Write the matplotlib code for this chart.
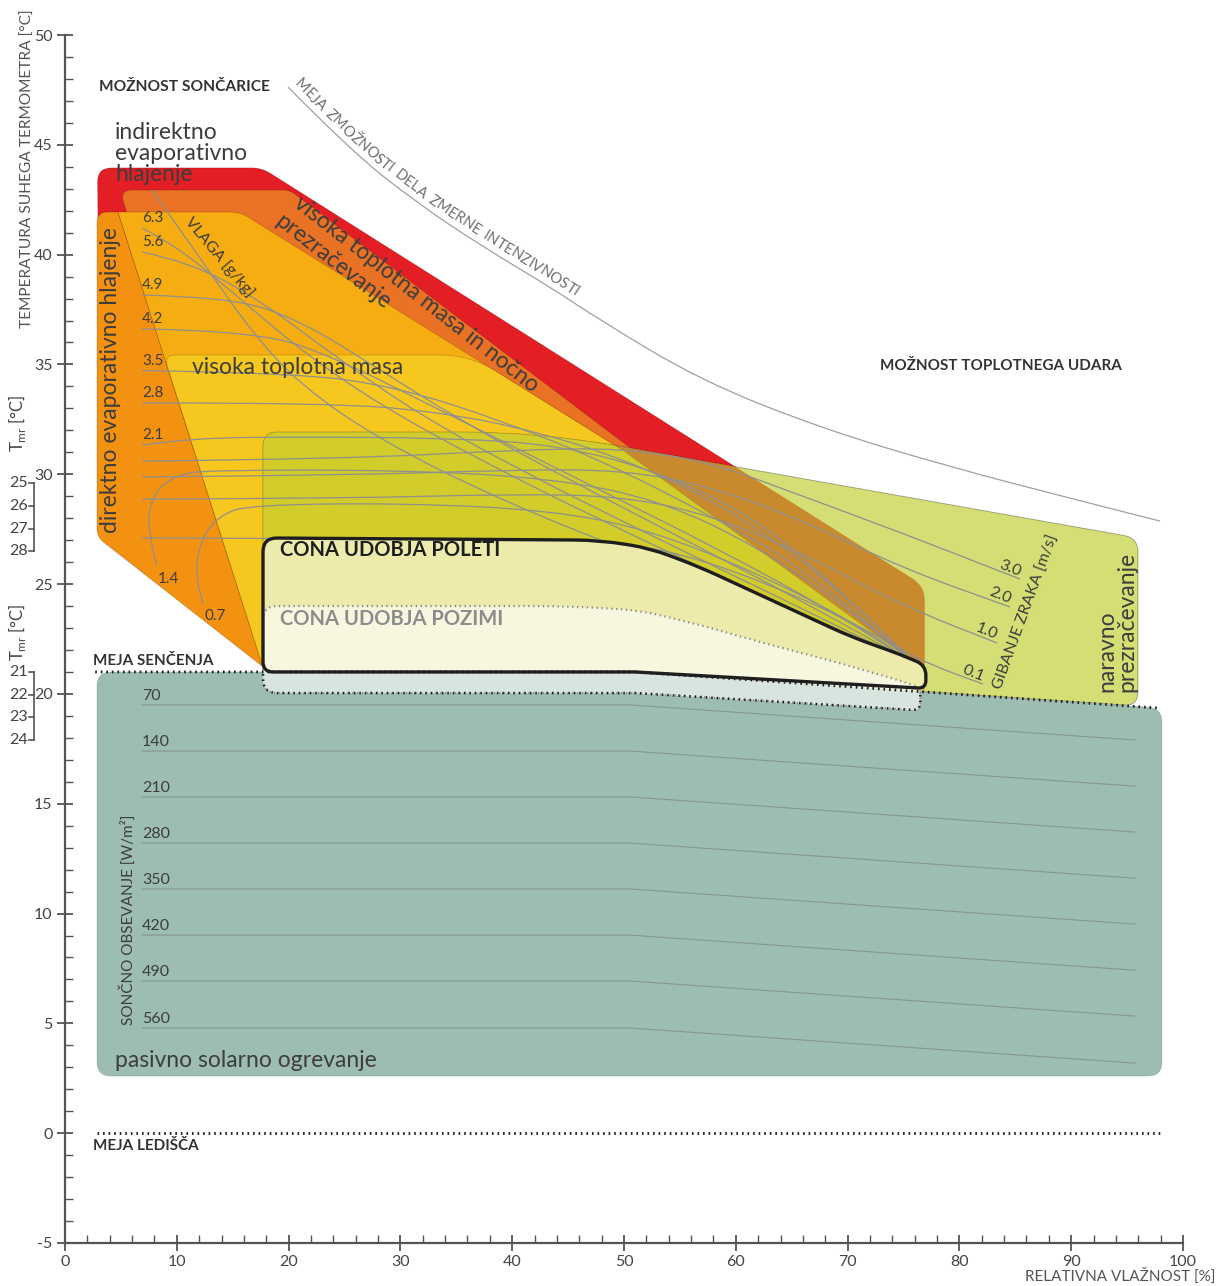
import numpy as np
import matplotlib
matplotlib.use("Agg")
import matplotlib.pyplot as plt
from matplotlib.path import Path
from matplotlib.patches import PathPatch
from matplotlib.font_manager import FontProperties

plt.rcParams["font.family"] = ["Lato", "DejaVu Sans"]
plt.rcParams["mathtext.fontset"] = "custom"
plt.rcParams["mathtext.rm"] = "Lato"

# --- podatki: relativna vlaznost [%], temperatura [°C] ---
INDIREKTNO = [(2.9, 43.95), (17.6, 43.95), (76.9, 24.9), (76.9, 20.2), (17.9, 21.8), (3.2, 28.2)]
NOCNO = [(4.9, 42.94), (20.1, 42.94), (76.0, 21.4), (17.9, 21.6)]
DIREKTNO = [(2.86, 41.94), (4.74, 41.94), (17.71, 21.23), (2.86, 27.14)]
DIREKTNO_SIRSE = [(4.74, 41.94), (15.65, 41.94), (50.0, 31.05), (76.0, 21.4), (17.71, 21.2)]
MASA = [(8.84, 35.43), (36.2, 35.43), (50.0, 31.05), (76.0, 21.4), (17.71, 21.2)]
NARAVNO = [(17.71, 31.92), (42.49, 31.92), (95.97, 27.1), (95.97, 19.45), (50.98, 21.0), (17.71, 21.0)]
SOLARNO = [(2.86, 21.0), (50.98, 21.0), (98.12, 19.35), (98.12, 2.6), (2.86, 2.6)]
POLETI = [(17.71, 27.1), (47.85, 27.0), (52.33, 26.63), (56.8, 25.77), (61.27, 24.72),
          (65.74, 23.67), (70.21, 22.62), (74.69, 21.8), (77.0, 21.3), (77.0, 20.25),
          (50.98, 21.0), (17.71, 21.0)]
POZIMI = [(17.71, 24.0), (45.0, 24.0), (51.43, 23.8), (56.8, 23.14), (62.17, 22.36),
          (69.32, 21.4), (74.69, 20.6), (76.5, 20.3), (76.5, 19.25), (50.98, 20.04), (17.71, 20.04)]

MEJA_SENCENJA = [(2.7, 21.0), (50.98, 21.0), (97.94, 19.35)]
MEJA_LEDISCA = [(2.9, 0.0), (97.9, 0.0)]
MEJA_DELA = [(19.95, 47.63), (25.49, 44.76), (31.49, 42.35), (37.39, 40.35), (43.38, 38.53),
             (47.85, 37.02), (56.8, 34.29), (67.53, 32.11), (79.16, 30.33), (90.52, 28.83), (97.94, 27.87)]

# vlaga [g/kg]
VLAGA_OZNAKE = ["6.3", "5.6", "4.9", "4.2", "3.5", "2.8", "2.1", "1.4", "0.7"]
VLAGA_KRIVULJE = [
    [(6.89, 41.21), (9.84, 40.44), (14.76, 38.39), (21.02, 35.66), (28.18, 33.15), (37.12, 30.65), (47.85, 27.92), (61.27, 24.73), (76.03, 21.36)],
    [(6.89, 40.12), (11.18, 39.66), (17.44, 37.93), (24.6, 35.2), (31.75, 32.7), (40.7, 30.19), (51.43, 27.46), (63.95, 24.37), (76.03, 21.36)],
    [(6.89, 38.16), (14.76, 38.07), (21.02, 37.02), (28.18, 34.75), (35.33, 32.47), (44.27, 29.97), (55.0, 27.14), (65.74, 24.28), (76.03, 21.36)],
    [(6.89, 36.62), (17.44, 36.53), (24.6, 35.2), (31.75, 33.38), (39.8, 31.33), (48.75, 29.06), (58.59, 26.55), (68.43, 23.82), (76.03, 21.36)],
    [(6.89, 34.72), (21.02, 34.62), (29.96, 33.93), (38.91, 32.47), (47.85, 30.65), (56.8, 28.37), (65.74, 25.87), (76.03, 21.36)],
    [(6.89, 33.25), (23.7, 33.25), (33.54, 32.84), (42.49, 31.92), (51.43, 30.42), (60.38, 28.15), (69.32, 24.73), (76.03, 21.36)],
    [(6.89, 31.33), (11.18, 31.65), (21.02, 31.7), (34.44, 31.65), (44.27, 31.33), (53.22, 30.1), (62.17, 27.92), (70.21, 24.28), (76.03, 21.36)],
    [(8.23, 25.82), (7.33, 27.46), (7.78, 29.06), (9.84, 29.97), (12.97, 30.19), (29.96, 30.19), (43.38, 29.83), (53.22, 28.83), (62.17, 26.64), (70.21, 23.82), (76.03, 21.36)],
    [(12.34, 24.14), (11.63, 25.19), (12.08, 27.01), (13.86, 28.15), (16.55, 28.6), (29.96, 28.69), (43.38, 28.37), (52.33, 27.46), (61.27, 25.64), (70.21, 23.37), (76.03, 21.36)],
]
VLAGA_OS = [(7.78, 42.94), (12.08, 39.85), (16.55, 36.57), (21.02, 34.07), (28.18, 31.56), (38.91, 28.83), (52.33, 26.1), (65.74, 23.59), (76.03, 21.36)]

# gibanje zraka [m/s]
ZRAK_OZNAKE = ["3.0", "2.0", "1.0", "0.1"]
ZRAK_KRIVULJE = [
    [(6.89, 30.6), (25.0, 30.7), (40.0, 31.1), (50.0, 31.2), (58.0, 30.5), (66.0, 29.0), (75.0, 27.3), (85.42, 25.23)],
    [(6.89, 29.88), (25.0, 29.95), (40.0, 30.2), (50.0, 30.2), (58.0, 29.4), (66.0, 27.9), (75.0, 25.7), (84.53, 23.96)],
    [(6.89, 28.87), (25.0, 28.9), (40.0, 29.1), (50.0, 29.0), (58.0, 28.1), (66.0, 26.4), (75.0, 24.0), (83.36, 22.32)],
    [(6.89, 27.1), (48.0, 27.05), (55.0, 26.4), (62.0, 25.2), (70.0, 23.4), (76.5, 21.5), (82.11, 20.45)],
]

# soncno obsevanje [W/m2]
SONCE_OZNAKE = ["70", "140", "210", "280", "350", "420", "490", "560"]
SONCE_LEVO = [19.50, 17.40, 15.31, 13.21, 11.12, 9.02, 6.93, 4.79]
SONCE_DESNO = [17.90, 15.80, 13.71, 11.61, 9.52, 7.42, 5.33, 3.19]
SONCE_RH = [6.89, 50.5, 95.71]

TMR_ZGORAJ = [25, 26, 27, 28]
TMR_ZGORAJ_T = [29.6, 28.55, 27.5, 26.5]
TMR_SPODAJ = [21, 22, 23, 24]
TMR_SPODAJ_T = [21.0, 19.95, 18.95, 17.9]

fig = plt.figure(figsize=(12.2, 12.86), dpi=100)
ax = fig.add_axes([65 / 1220, 43 / 1286, 1118 / 1220, 1208 / 1286])
ax.set_xlim(0, 100)
ax.set_ylim(-5, 50)
SX = 1118 / 100
SY = 1208 / 55

TXT = "#3d3d3d"


def rounded_path(points, radii):
    p = np.array(points, float) * [SX, SY]
    n = len(p)
    verts, codes = [], []
    for i in range(n):
        cur = p[i]
        d1 = p[i - 1] - cur
        d2 = p[(i + 1) % n] - cur
        l1 = np.hypot(*d1)
        l2 = np.hypot(*d2)
        r = min(radii[i], l1 / 2, l2 / 2)
        a = cur + d1 / l1 * r
        b = cur + d2 / l2 * r
        verts.append(a)
        codes.append(Path.MOVETO if i == 0 else Path.LINETO)
        verts += [cur, b]
        codes += [Path.CURVE3, Path.CURVE3]
    verts.append(verts[0])
    codes.append(Path.CLOSEPOLY)
    return Path(np.array(verts) / [SX, SY], codes)


def smooth_path(points):
    p = np.array(points, float)
    verts = [p[0]]
    codes = [Path.MOVETO]
    for i in range(1, len(p) - 1):
        verts += [p[i], (p[i] + p[i + 1]) / 2]
        codes += [Path.CURVE3, Path.CURVE3]
    verts.append(p[-1])
    codes.append(Path.LINETO)
    return Path(np.array(verts), codes)


def shape(path, fc, z, ec="none", lw=0.0, clip=None, **kw):
    patch = PathPatch(path, facecolor=fc, edgecolor=ec, lw=lw, zorder=z, **kw)
    ax.add_patch(patch)
    if clip is not None:
        patch.set_clip_path(clip)
    return patch


p_red = rounded_path(INDIREKTNO, [14, 10, 14, 0, 0, 0])
p_orange = rounded_path(NOCNO, [12, 6, 0, 0])
p_dir = rounded_path(DIREKTNO, [12, 0, 0, 8])
p_amber = rounded_path(DIREKTNO_SIRSE, [0, 10, 0, 0, 0])
p_yellow = rounded_path(MASA, [12, 30, 0, 0, 0])
p_green = rounded_path(NARAVNO, [14, 80, 14, 14, 0, 0])
p_teal = rounded_path(SOLARNO, [14, 0, 14, 14, 14])
p_summer = rounded_path(POLETI, [14, 40, 20, 20, 20, 20, 20, 12, 10, 8, 0, 10])
p_winter = rounded_path(POZIMI, [14, 40, 20, 20, 20, 20, 12, 8, 8, 0, 14])

edge = (0, 0, 0, 0.18)
shape(p_red, "#e31e25", 1.0, ec=edge, lw=0.6)
shape(p_orange, "#ea7224", 1.1, ec=edge, lw=0.6)
shape(p_dir, "#f39211", 1.2, ec=edge, lw=0.6)
shape(p_amber, "#f6ad11", 1.3, ec=edge, lw=0.6)
shape(p_yellow, "#f6c81f", 1.4, ec=edge, lw=0.6)

green = shape(p_green, "#d4de74", 1.5, ec=edge, lw=0.6)
shape(p_red, "#c98a2e", 1.6, clip=green)
shape(p_orange, "#c98a2e", 1.61, clip=green)
shape(p_amber, "#d2cd2a", 1.62, clip=green)
shape(p_yellow, "#d2cd2a", 1.63, clip=green)
shape(p_yellow, "none", 1.635, ec=(0, 0, 0, 0.12), lw=0.6, clip=green)
shape(p_green, "none", 1.64, ec=edge, lw=0.6)

teal = shape(p_teal, "#9dbdb0", 1.5, ec=(0, 0, 0, 0.12), lw=0.6)

# linije vlage in gibanja zraka
for pts in VLAGA_KRIVULJE + [VLAGA_OS]:
    ax.add_patch(PathPatch(smooth_path(pts), fc="none", ec="#8f8f8f", lw=0.9, zorder=2.0))
for pts in ZRAK_KRIVULJE:
    ax.add_patch(PathPatch(smooth_path(pts), fc="none", ec="#8f8f8f", lw=0.9, zorder=2.0))

for lab, pts in zip(VLAGA_OZNAKE, VLAGA_KRIVULJE):
    x0, y0 = pts[0]
    if pts[1][1] > y0 + 1:
        ax.text(x0 + 0.1, y0 - 0.6, lab, fontsize=11, color=TXT, va="center", ha="left", zorder=4)
    else:
        ax.text(x0, y0 + 0.45, lab, fontsize=11, color=TXT, va="center", ha="left", zorder=4)

for lab, pts in zip(ZRAK_OZNAKE, ZRAK_KRIVULJE):
    x1, y1 = pts[-1]
    ax.text(x1 - 0.9, y1 + 0.5, lab, fontsize=11.5, color=TXT, rotation=-22,
            ha="center", va="center", rotation_mode="anchor", zorder=4)

# soncno obsevanje
for lab, yl, yd in zip(SONCE_OZNAKE, SONCE_LEVO, SONCE_DESNO):
    ax.plot(SONCE_RH, [yl, yl, yd], color="#86968f", lw=0.8, zorder=2.0)
    ax.text(SONCE_RH[0], yl + 0.42, lab, fontsize=11.5, color=TXT, va="center", ha="left", zorder=4)

# cone udobja
shape(p_summer, "#ecebab", 2.5)
shape(p_winter, "#f7f6df", 2.6)
shape(p_winter, "#d8e5df", 2.65, clip=teal)
shape(p_winter, "none", 2.7, ec="#8c8c8c", lw=1.6, ls=(0, (0.6, 1.6)))
shape(p_winter, "none", 2.71, clip=teal, ec="#1e1e1e", lw=1.8, ls=(0, (0.6, 1.6)))
shape(p_summer, "none", 2.9, ec="#1e1e1e", lw=2.4)

# meje
ax.plot(*zip(*MEJA_SENCENJA), color="#1e1e1e", lw=2.0, ls=(0, (0.6, 1.4)), zorder=3)
ax.plot(*zip(*MEJA_LEDISCA), color="#1e1e1e", lw=2.0, ls=(0, (0.6, 1.4)), zorder=3)
meja_dela = smooth_path(MEJA_DELA)
ax.add_patch(PathPatch(meja_dela, fc="none", ec="#a0a0a0", lw=0.9, zorder=2.0))


def text_on_curve(path, s, start, offset, **kw):
    fig.canvas.draw()
    rend = fig.canvas.get_renderer()
    poly = path.to_polygons(ax.transData, closed_only=False)[0]
    seg = np.hypot(*np.diff(poly, axis=0).T)
    cum = np.concatenate([[0], np.cumsum(seg)])
    fp = FontProperties(family=plt.rcParams["font.family"], size=kw.get("fontsize", 10))
    pos = start
    for ch in s:
        w, h, d = rend.get_text_width_height_descent(ch if ch != " " else "n", fp, ismath=False)
        w = w * 0.72 if ch == " " else w
        c = pos + w / 2
        x = np.interp(c, cum, poly[:, 0])
        y = np.interp(c, cum, poly[:, 1])
        x2 = np.interp(c + 2, cum, poly[:, 0])
        y2 = np.interp(c + 2, cum, poly[:, 1])
        t = np.array([x2 - x, y2 - y])
        t /= np.hypot(*t)
        nrm = np.array([-t[1], t[0]])
        dx, dy = ax.transData.inverted().transform((x + nrm[0] * offset, y + nrm[1] * offset))
        ang = np.degrees(np.arctan2(t[1], t[0]))
        if ch != " ":
            ax.text(dx, dy, ch, rotation=ang, ha="center", va="center",
                    rotation_mode="anchor", zorder=4, **kw)
        pos += w


text_on_curve(meja_dela, "MEJA ZMOŽNOSTI DELA ZMERNE INTENZIVNOSTI", 2, 10,
              fontsize=10.5, color="#6e6e6e")

# napisi
bold = dict(fontweight="bold", color="#333333", zorder=4)
ax.text(3.04, 47.63, "MOŽNOST SONČARICE", fontsize=11.2, ha="left", va="center", **bold)
ax.text(72.9, 34.93, "MOŽNOST TOPLOTNEGA UDARA", fontsize=11, ha="left", va="center", **bold)
ax.text(2.5, 21.5, "MEJA SENČENJA", fontsize=11, ha="left", va="center", **bold)
ax.text(2.5, -0.58, "MEJA LEDIŠČA", fontsize=11, ha="left", va="center", **bold)
ax.text(19.2, 26.55, "CONA UDOBJA POLETI", fontsize=14.5, ha="left", va="center",
        fontweight="bold", color="#1e1e1e", zorder=4)
ax.text(19.2, 23.41, "CONA UDOBJA POZIMI", fontsize=14.5, ha="left", va="center",
        fontweight="bold", color="#8c8c8c", zorder=4)

big = dict(fontsize=16.5, color=TXT, zorder=4)
ax.text(4.47, 46.05, "indirektno\nevaporativno\nhlajenje", ha="left", va="top",
        linespacing=1.0, **big)
ax.text(11.36, 34.84, "visoka toplotna masa", ha="left", va="center", **big)
ax.text(4.03, 34.3, "direktno evaporativno hlajenje", rotation=90, ha="center", va="center", **big)
ax.text(31.4, 38.2, "visoka toplotna masa in nočno", rotation=-38, ha="center", va="center",
        rotation_mode="anchor", **big)
ax.text(23.97, 39.66, "prezračevanje", rotation=-38, ha="center", va="center",
        rotation_mode="anchor", **big)
ax.text(94.1, 20.1, "naravno\nprezračevanje", rotation=90, ha="center", va="bottom",
        multialignment="left", linespacing=0.95, **big)
ax.text(4.47, 3.33, "pasivno solarno ogrevanje", ha="left", va="center", **big)

ax.text(13.86, 39.9, "VLAGA [g/kg]", rotation=-50, ha="center", va="center",
        rotation_mode="anchor", fontsize=11.5, color=TXT, zorder=4)
ax.text(86.0, 23.73, "GIBANJE ZRAKA [m/s]", rotation=70, ha="center", va="center",
        rotation_mode="anchor", fontsize=11.5, color=TXT, zorder=4)
ax.text(5.64, 9.71, "SONČNO OBSEVANJE [W/m²]", rotation=90, ha="center", va="center",
        fontsize=11, color=TXT, zorder=4)

# osi
for side in ["top", "right"]:
    ax.spines[side].set_visible(False)
for side in ["left", "bottom"]:
    ax.spines[side].set_color("#555555")
    ax.spines[side].set_linewidth(1.6)
    ax.spines[side].set_zorder(5)
ax.set_xticks(range(0, 101, 10))
ax.set_xticks(range(0, 101, 2), minor=True)
ax.set_yticks(range(-5, 51, 5))
ax.set_yticks(range(-5, 51, 1), minor=True)
ax.set_xticklabels([str(v) for v in range(0, 101, 10)])
ax.set_yticklabels([str(v) for v in range(-5, 51, 5)])
ax.tick_params(which="major", direction="inout", length=12, width=1.3, color="#555555",
               labelsize=11.5, labelcolor="#444444", pad=3)
ax.tick_params(which="minor", direction="in", length=6, width=1.0, color="#555555")

ax.text(-3.3, 43.9, "TEMPERATURA SUHEGA TERMOMETRA [°C]", rotation=90, ha="center", va="center",
        fontsize=11.2, color="#555555", clip_on=False)
ax.text(102.9, -6.5, "RELATIVNA VLAŽNOST [%]", ha="right", va="center", fontsize=11,
        color="#555555", clip_on=False)

# skali Tmr
for vals, ts, ylab in [(TMR_ZGORAJ, TMR_ZGORAJ_T, 32.3), (TMR_SPODAJ, TMR_SPODAJ_T, 22.8)]:
    ax.plot([-2.77, -2.77], [ts[0], ts[-1]], color="#555555", lw=1.2, clip_on=False)
    for v, t in zip(vals, ts):
        ax.plot([-3.2, -2.77], [t, t], color="#555555", lw=1.2, clip_on=False)
        ax.text(-3.3, t, str(v), ha="right", va="center", fontsize=11.5, color="#444444", clip_on=False)
    ax.text(-4.3, ylab, r"T$_{\mathregular{mr}}$ [°C]", rotation=90, ha="center", va="center",
            fontsize=12, color="#444444", clip_on=False)

fig.savefig("out.png", dpi=100)
